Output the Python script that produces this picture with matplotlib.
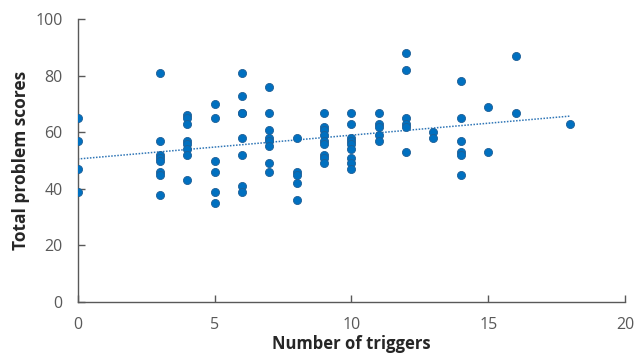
import numpy as np
import matplotlib.pyplot as plt

# number of triggers per respondent and total problem score
triggers = [0, 0, 0, 0,
            3, 3, 3, 3, 3, 3, 3, 3,
            4, 4, 4, 4, 4, 4, 4, 4,
            5, 5, 5, 5, 5, 5,
            6, 6, 6, 6, 6, 6, 6, 6,
            7, 7, 7, 7, 7, 7, 7, 7,
            8, 8, 8, 8, 8,
            9, 9, 9, 9, 9, 9, 9, 9, 9,
            10, 10, 10, 10, 10, 10, 10, 10, 10,
            11, 11, 11, 11, 11,
            12, 12, 12, 12, 12, 12,
            13, 13,
            14, 14, 14, 14, 14, 14,
            15, 15,
            16, 16,
            18]
scores = [65, 57, 47, 39,
          81, 57, 52, 51, 50, 46, 45, 38,
          66, 65, 63, 57, 56, 54, 52, 43,
          70, 65, 50, 46, 39, 35,
          81, 73, 67, 67, 58, 52, 41, 39,
          76, 67, 61, 58, 57, 55, 49, 46,
          58, 46, 45, 42, 36,
          67, 62, 61, 59, 57, 56, 52, 51, 49,
          67, 63, 58, 57, 56, 54, 51, 49, 47,
          67, 63, 62, 59, 57,
          88, 82, 65, 63, 62, 53,
          60, 58,
          78, 65, 57, 53, 52, 45,
          69, 53,
          87, 67,
          63]

x = np.array(triggers, dtype=float)
y = np.array(scores, dtype=float)

plt.rcParams['font.family'] = ['Open Sans', 'DejaVu Sans']

fig = plt.figure(figsize=(6.34, 3.59), dpi=100)
ax = fig.add_axes([0.1226, 0.1588, 0.8633, 0.7875])

ax.scatter(x, y, s=34, color='#0070C0', edgecolors='#1F5F96', linewidths=0.6, zorder=3)

# linear trendline over the data range
slope, intercept = np.polyfit(x, y, 1)
xs = np.array([x.min(), x.max()])
ax.plot(xs, slope * xs + intercept, linestyle=(0, (1, 1)), color='#2E75B6', linewidth=1.1, zorder=2)

ax.set_xlim(0, 20)
ax.set_ylim(0, 100)
ax.set_xticks([0, 5, 10, 15, 20])
ax.set_yticks([0, 20, 40, 60, 80, 100])

for side in ['top', 'right']:
    ax.spines[side].set_visible(False)
for side in ['left', 'bottom']:
    ax.spines[side].set_color('#595959')
    ax.spines[side].set_linewidth(1.0)

ax.tick_params(direction='in', length=5, width=1, color='#595959',
               labelsize=11.5, labelcolor='#595959')
ax.tick_params(axis='x', pad=11)
ax.tick_params(axis='y', pad=11)

ax.set_xlabel('Number of triggers', fontsize=12, fontweight='bold', color='#262626', labelpad=1)
ax.set_ylabel('Total problem scores', fontsize=12.5, fontweight='bold', color='#262626', labelpad=4)

plt.savefig('out.png', dpi=100)
plt.close()
